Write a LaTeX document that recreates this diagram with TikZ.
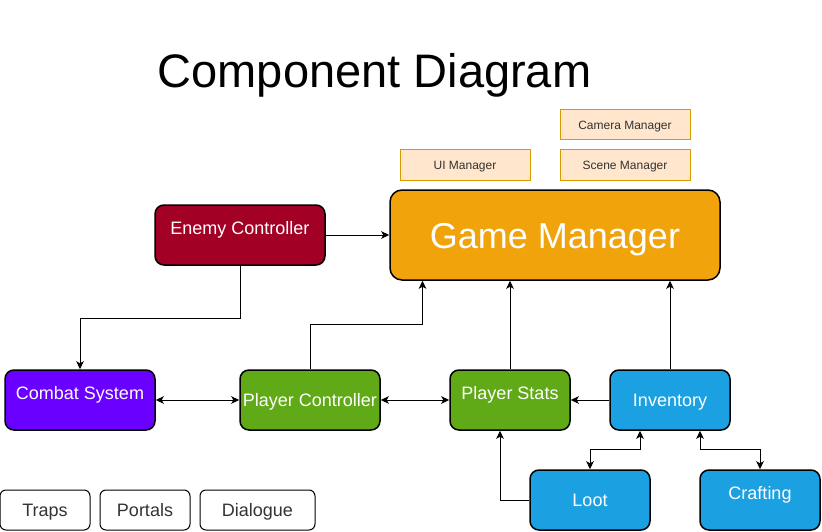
\documentclass[tikz,border=0pt]{standalone}
\usepackage{fontspec}
\setmainfont{Liberation Sans}
\usetikzlibrary{positioning, arrows.meta, calc}

\definecolor{gmorange}{HTML}{F0A30A}
\definecolor{enemyred}{HTML}{A20025}
\definecolor{combatviolet}{HTML}{6A00FF}
\definecolor{playergreen}{HTML}{60A917}
\definecolor{itemblue}{HTML}{1BA1E2}
\definecolor{mgrfill}{HTML}{FFE6CC}
\definecolor{mgrline}{HTML}{D79B00}
\definecolor{darktext}{HTML}{333333}

\begin{document}
\begin{tikzpicture}[x=1pt, y=-1pt,
	>={Stealth[length=8pt,width=7.5pt,inset=2pt]},
	comp/.style={draw=black, line width=1.5pt, rounded corners=9pt, text=white,
		font=\fontsize{18}{20}\selectfont, inner sep=0pt, minimum height=60pt,
		text height=13pt, text depth=0pt},
	raised/.style={text depth=15pt},
	mgr/.style={draw=mgrline, fill=mgrfill, line width=1pt, text=darktext,
		font=\fontsize{12}{14}\selectfont, inner sep=0pt, minimum width=130pt,
		minimum height=30pt, text height=8.6pt, text depth=0pt},
	extra/.style={draw=black, line width=1pt, rounded corners=6pt, text=darktext,
		font=\fontsize{18}{20}\selectfont, inner sep=0pt, minimum height=40pt,
		text height=13pt, text depth=0pt},
	link/.style={line width=1pt}]
	\useasboundingbox (0,0) rectangle (822,532);
	
	% Title
	\node (title) [anchor=base, font=\fontsize{47}{50}\selectfont] at (374.5,88) {Component Diagram};
	
	% Managers
	\node (camera) [mgr] at (625,125) {Camera Manager};
	\node (ui) [mgr] at (465,165) {UI Manager};
	\node (scene) [mgr] at (625,165) {Scene Manager};
	
	% Main components
	\node (game) [comp, fill=gmorange, minimum width=330pt, minimum height=90pt, rounded corners=12pt,
		font=\fontsize{36}{40}\selectfont, text height=26pt] at (555,235) {Game Manager};
	\node (enemy) [comp, raised, fill=enemyred, minimum width=170pt] at (240,235) {Enemy Controller};
	\node (combat) [comp, raised, fill=combatviolet, minimum width=150pt] at (80,400) {Combat System};
	\node (pctrl) [comp, fill=playergreen, minimum width=140pt] at (310,400) {Player Controller};
	\node (pstats) [comp, raised, fill=playergreen, minimum width=120pt] at (510,400) {Player Stats};
	\node (inv) [comp, fill=itemblue, minimum width=120pt] at (670,400) {Inventory};
	\node (loot) [comp, fill=itemblue, minimum width=120pt] at (590,500) {Loot};
	\node (craft) [comp, raised, fill=itemblue, minimum width=120pt] at (760,500) {Crafting};
	
	% Extras
	\node (traps) [extra, minimum width=90pt] at (45,510) {Traps};
	\node (portals) [extra, minimum width=90pt] at (145,510) {Portals};
	\node (dialogue) [extra, minimum width=115pt] at (257.5,510) {Dialogue};
	
	% Links
	\draw[link, ->] (enemy.east) -- (game.west);
	\draw[link, ->] (enemy.south) -- ++(0,53) -| (combat.north);
	\draw[link, <->] (combat.east) -- (pctrl.west);
	\draw[link, ->] (pctrl.north) -- ++(0,-45) -| ([xshift=-132.5pt]game.south);
	\draw[link, <->] (pctrl.east) -- (pstats.west);
	\draw[link, ->] (pstats.north) -- (pstats.north |- game.south);
	\draw[link, ->] (inv.west) -- (pstats.east);
	\draw[link, ->] (inv.north) -- (inv.north |- game.south);
	\draw[link, ->] (loot.west) -| ([xshift=-10pt]pstats.south);
	\draw[link, <->] (loot.north) -- ++(0,-20) -| ([xshift=-30pt]inv.south);
	\draw[link, <->] (craft.north) -- ++(0,-20) -| ([xshift=30pt]inv.south);
\end{tikzpicture}
\end{document}
